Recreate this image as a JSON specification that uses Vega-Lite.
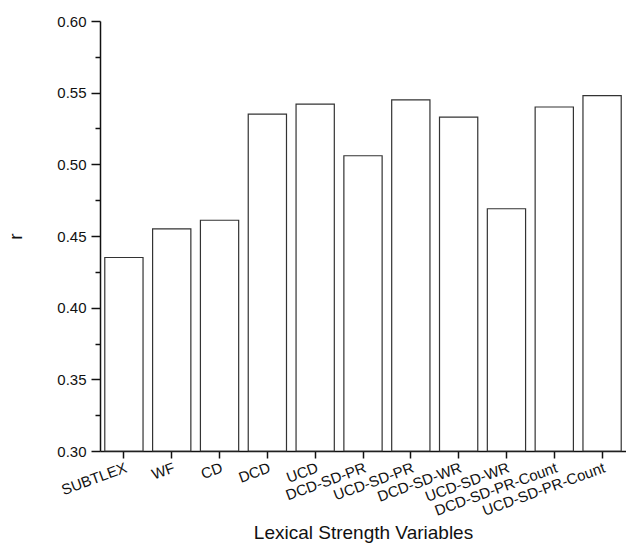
{
  "$schema": "https://vega.github.io/schema/vega-lite/v6.json",
  "autosize": "none",
  "width": 526,
  "height": 430,
  "padding": {"left": 100, "top": 21, "right": 0, "bottom": 94},
  "background": "white",
  "config": {"view": {"stroke": null}, "font": "Liberation Sans"},
  "data": {"values": [
    {"var": "SUBTLEX", "r": 0.435},
    {"var": "WF", "r": 0.455},
    {"var": "CD", "r": 0.461},
    {"var": "DCD", "r": 0.535},
    {"var": "UCD", "r": 0.542},
    {"var": "DCD-SD-PR", "r": 0.506},
    {"var": "UCD-SD-PR", "r": 0.545},
    {"var": "DCD-SD-WR", "r": 0.533},
    {"var": "UCD-SD-WR", "r": 0.469},
    {"var": "DCD-SD-PR-Count", "r": 0.540},
    {"var": "UCD-SD-PR-Count", "r": 0.548}
  ]},
  "mark": {"type": "bar", "fill": "white", "stroke": "#333", "strokeWidth": 1.2},
  "encoding": {
    "x": {
      "field": "var", "type": "nominal", "sort": null,
      "scale": {"paddingInner": 0.2, "paddingOuter": 0.1},
      "axis": {
        "title": "Lexical Strength Variables",
        "titleFont": "Liberation Sans", "titleFontSize": 19, "titleFontWeight": "normal",
        "titleColor": "#111", "titlePadding": 0, "titleY": 87, "titleBaseline": "alphabetic",
        "labelAngle": -20, "labelAlign": "right", "labelBaseline": "top",
        "labelFont": "Liberation Sans", "labelFontSize": 15, "labelColor": "#111",
        "labelPadding": 2, "labelOverlap": false, "labelLimit": 0,
        "tickSize": 7, "tickWidth": 1.5, "tickColor": "#111",
        "domainColor": "#111", "domainWidth": 1.5
      }
    },
    "y": {
      "field": "r", "type": "quantitative",
      "scale": {"domain": [0.3, 0.6], "nice": false, "zero": false},
      "axis": {
        "title": "r",
        "titleFont": "Liberation Sans", "titleFontSize": 19, "titleFontWeight": "normal",
        "titleColor": "#111", "titleAngle": -90, "titleX": -85, "titleY": 215,
        "titleAlign": "center", "titleBaseline": "middle",
        "values": [0.3, 0.325, 0.35, 0.375, 0.4, 0.425, 0.45, 0.475, 0.5, 0.525, 0.55, 0.575, 0.6],
        "labelExpr": "round(datum.value*1000) % 50 === 0 ? format(datum.value, '.2f') : ''",
        "labelFont": "Liberation Sans", "labelFontSize": 15, "labelColor": "#111",
        "labelPadding": 5, "labelFlush": false,
        "tickSize": {"condition": {"test": "round(datum.value*1000) % 50 === 0", "value": 9}, "value": 5},
        "tickWidth": 1.5, "tickColor": "#111",
        "domainColor": "#111", "domainWidth": 1.5,
        "grid": false
      }
    },
    "y2": {"datum": 0.3}
  }
}
